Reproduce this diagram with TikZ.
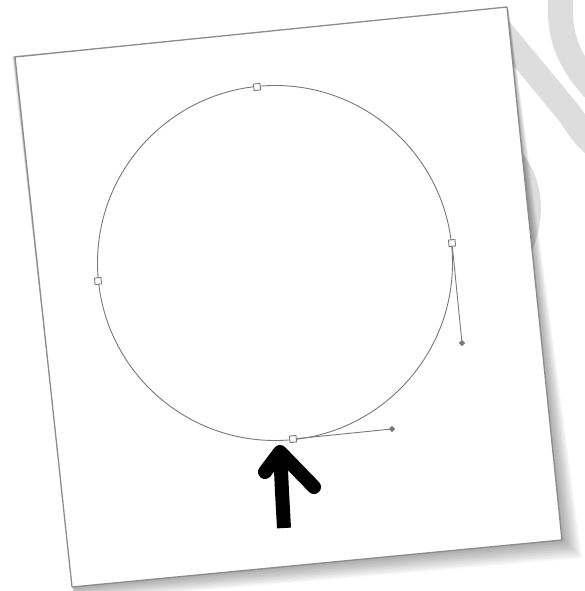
\documentclass[tikz,border=0pt]{standalone}
\usetikzlibrary{shapes.geometric}
\definecolor{wm}{RGB}{221,221,221}
\definecolor{edgegray}{RGB}{140,140,140}
\definecolor{pathgray}{RGB}{120,120,120}
\begin{document}
\begin{tikzpicture}[x=1pt,y=-1pt,
  watermark/.style={draw=wm,line width=25pt,line cap=round},
  paper/.style={draw=edgegray,line width=1.3pt,fill=white,line join=round},
  anchorpt/.style={draw=pathgray,fill=white,rectangle,inner sep=0pt,minimum size=6.5pt,line width=0.9pt,rotate=6},
  handlept/.style={fill=pathgray,diamond,inner sep=0pt,minimum size=6.5pt},
  handleline/.style={draw=pathgray,line width=0.9pt},
  pathline/.style={draw=pathgray,line width=0.9pt},
  marker/.style={draw=black,line width=14pt,line join=round}
]
\useasboundingbox (0,0) rectangle (584,591);
% watermark behind the paper
\draw[watermark] (562,-15) .. controls (556,30) and (565,60) .. (600,95);
\draw[watermark] (500,30) -- (568,112) .. controls (578,125) and (585,140) .. (600,148);
\draw[watermark,line cap=butt] (512,160) .. controls (532,185) and (534,222) .. (516,255);
% shadow of the paper
\foreach \k in {1,...,12}{
  \pgfmathsetmacro\f{\k/12}
  \fill[black,opacity=0.03] ({15-3*\f},{57-1*\f}) -- ({507+2*\f},{7+3*\f}) -- ({562+20*\f},{540+18*\f}) -- ({72+3*\f},{587+14*\f}) -- cycle;
}
% paper
\draw[paper] (15,57) -- (507,7) -- (562,540) -- (72,587) -- cycle;
% circle path
\draw[pathline] (275,263) circle[radius=177.5];
% anchor points
\node[anchorpt] (top) at (257,87) {};
\node[anchorpt] (left) at (98,281) {};
\node[handlept] (rh) at (462,343) {};
\node[handlept] (bh) at (392,429) {};
\node[anchorpt] (right) at (452,243) {};
\node[anchorpt] (bottom) at (293,439) {};
\draw[handleline] (right) -- (rh);
\draw[handleline] (bottom) -- (bh);
% hand-drawn arrow
\draw[marker,line cap=butt] (284,528) -- (282,492) -- (281,470) -- (279,455);
\draw[marker,line cap=round] (265,472) -- (280,452) -- (314,487);
\end{tikzpicture}
\end{document}
